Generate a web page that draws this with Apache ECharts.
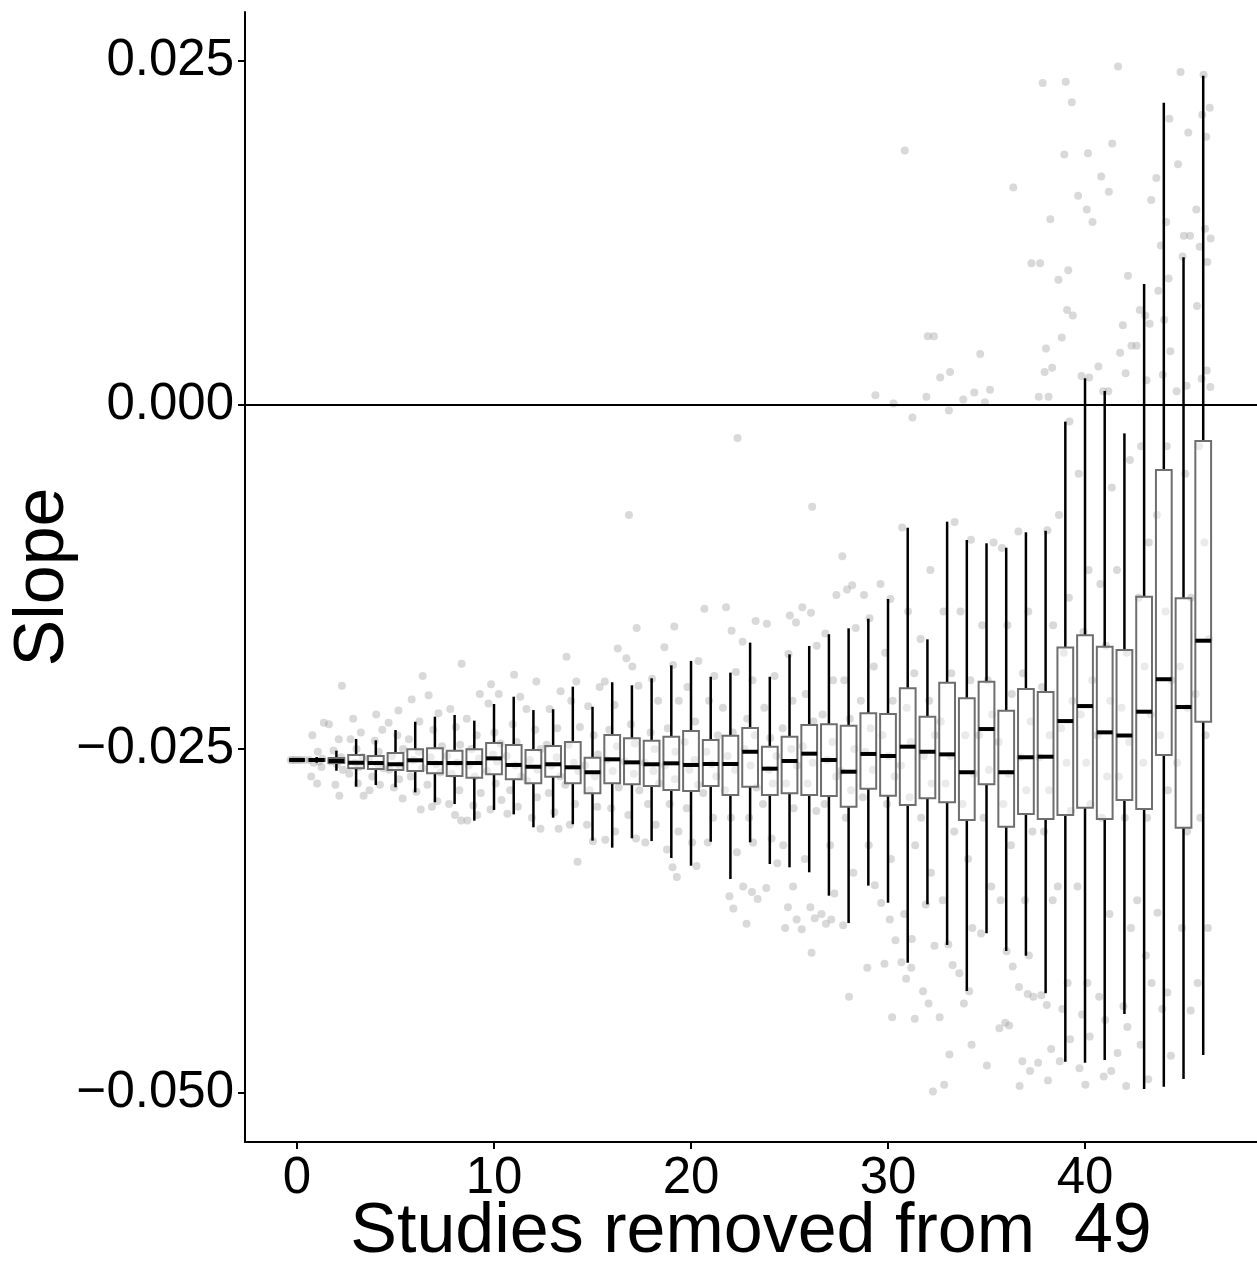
<!DOCTYPE html>
<html>
<head>
<meta charset="utf-8">
<script src="https://cdn.jsdelivr.net/npm/echarts@6/dist/echarts.min.js"></script>
<style>
  html, body { margin: 0; padding: 0; background: #fff; }
  #chart { width: 1257px; height: 1261px; }
</style>
</head>
<body>
<div id="chart"></div>
<script>
// number of studies removed (x categories)
const studiesRemoved = [0,1,2,3,4,5,6,7,8,9,10,11,12,13,14,15,16,17,18,19,20,21,22,23,24,25,26,27,28,29,30,31,32,33,34,35,36,37,38,39,40,41,42,43,44,45,46];

// box statistics
const whiskerLow = [-0.0258,-0.0260,-0.02658,-0.02774,-0.02762,-0.02778,-0.02815,-0.02887,-0.0290,-0.03021,
  -0.02943,-0.02975,-0.03069,-0.02999,-0.03047,-0.03166,-0.03217,-0.03149,-0.03169,-0.03292,
  -0.03348,-0.03174,-0.03445,-0.03178,-0.03336,-0.0336,-0.03396,-0.03566,-0.03765,-0.03493,
  -0.03617,-0.04053,-0.03629,-0.03924,-0.04259,-0.03839,-0.03968,-0.04002,-0.04275,-0.04773,
  -0.0478,-0.0476,-0.04426,-0.04971,-0.04954,-0.04898,-0.04724];
const lowerQuartile = [-0.0258,-0.02587,-0.02602,-0.0264,-0.02645,-0.02653,-0.0266,-0.02677,-0.02696,-0.02709,
  -0.02684,-0.0272,-0.02749,-0.02701,-0.02749,-0.02822,-0.02749,-0.02757,-0.02769,-0.02798,
  -0.02805,-0.02769,-0.02834,-0.02774,-0.02834,-0.02822,-0.02834,-0.02842,-0.02919,-0.02788,
  -0.02839,-0.02907,-0.02858,-0.02887,-0.03016,-0.02757,-0.03065,-0.02972,-0.03009,-0.0298,
  -0.02927,-0.03009,-0.02871,-0.02936,-0.02544,-0.03072,-0.02302];
const medianSlope = [-0.0258,-0.0258,-0.02587,-0.0260,-0.02602,-0.02611,-0.02582,-0.02602,-0.02602,-0.02602,
  -0.02568,-0.02616,-0.02629,-0.02611,-0.02633,-0.02669,-0.02575,-0.02597,-0.02611,-0.02604,
  -0.02616,-0.02609,-0.02609,-0.0252,-0.02643,-0.02587,-0.02534,-0.0258,-0.02665,-0.02536,
  -0.02551,-0.02483,-0.0252,-0.02539,-0.02669,-0.02355,-0.02669,-0.0256,-0.02556,-0.02297,
  -0.02188,-0.02379,-0.02402,-0.02229,-0.01993,-0.02195,-0.01713];
const upperQuartile = [-0.0258,-0.02573,-0.02565,-0.02544,-0.02551,-0.02529,-0.02502,-0.02495,-0.02512,-0.02502,
  -0.02456,-0.02471,-0.02507,-0.02478,-0.02449,-0.02563,-0.02398,-0.02422,-0.0244,-0.02411,
  -0.02369,-0.02435,-0.02403,-0.02347,-0.02483,-0.02411,-0.02326,-0.0232,-0.02331,-0.02241,
  -0.02246,-0.02059,-0.02265,-0.02018,-0.02132,-0.02011,-0.02222,-0.02064,-0.02086,-0.01762,
  -0.01674,-0.01757,-0.01781,-0.01393,-0.00472,-0.01405,-0.00262];
const whiskerHigh = [-0.0258,-0.02558,-0.02512,-0.02427,-0.02437,-0.02362,-0.02302,-0.02265,-0.02253,-0.02294,
  -0.02173,-0.0212,-0.02217,-0.02211,-0.02047,-0.02193,-0.02015,-0.02037,-0.01986,-0.01892,
  -0.0186,-0.01975,-0.01945,-0.01727,-0.01975,-0.01812,-0.01751,-0.01666,-0.01623,-0.01553,
  -0.0141,-0.00892,-0.01703,-0.00848,-0.00981,-0.01005,-0.01037,-0.00925,-0.00914,-0.00121,
  0.00194,0.00102,-0.00206,0.00879,0.02197,0.01073,0.02393];

// individual slopes (grey points), one list per number removed
const slopeSamples = [
  [-0.0258,-0.0258,-0.0258,-0.0258,-0.0258,-0.0258],
  [-0.0231,-0.0240,-0.0252,-0.0257,-0.0258,-0.0259,-0.0260,-0.0263,-0.0270,-0.0275],
  [-0.0204,-0.0232,-0.0243,-0.0251,-0.0256,-0.0259,-0.0261,-0.0265,-0.0276,-0.0284],
  [-0.0228,-0.0238,-0.0243,-0.0250,-0.0256,-0.0260,-0.0263,-0.0268,-0.0275,-0.0284],
  [-0.0225,-0.0236,-0.0244,-0.0252,-0.0257,-0.0261,-0.0264,-0.0270,-0.0276,-0.0280],
  [-0.0222,-0.0231,-0.0240,-0.0250,-0.0255,-0.0262,-0.0265,-0.0272,-0.0278,-0.0286],
  [-0.0197,-0.0214,-0.0230,-0.0243,-0.0252,-0.0258,-0.0264,-0.0270,-0.0281,-0.0294],
  [-0.0211,-0.0224,-0.0236,-0.0248,-0.0256,-0.0261,-0.0267,-0.0276,-0.0288,-0.0292],
  [-0.0188,-0.0221,-0.0234,-0.0247,-0.0255,-0.0260,-0.0268,-0.0280,-0.0290,-0.0298,-0.0302],
  [-0.0210,-0.0228,-0.0240,-0.0250,-0.0257,-0.0262,-0.0270,-0.0282,-0.0291,-0.0298,-0.0302],
  [-0.0203,-0.0210,-0.0217,-0.0238,-0.0246,-0.0254,-0.0259,-0.0266,-0.0275,-0.0287,-0.0294],
  [-0.0196,-0.0212,-0.0232,-0.0245,-0.0255,-0.0262,-0.0270,-0.0280,-0.0292,-0.0297],
  [-0.0201,-0.0221,-0.0236,-0.0250,-0.0258,-0.0265,-0.0273,-0.0285,-0.0300,-0.0308],
  [-0.0208,-0.0221,-0.0235,-0.0247,-0.0256,-0.0262,-0.0270,-0.0282,-0.0296,-0.0308],
  [-0.0183,-0.0201,-0.0215,-0.0234,-0.0247,-0.0260,-0.0266,-0.0276,-0.0290,-0.0305,-0.0332],
  [-0.0205,-0.0219,-0.0240,-0.0254,-0.0262,-0.0270,-0.0280,-0.0292,-0.0305,-0.0317],
  [-0.0177,-0.0201,-0.0218,-0.0236,-0.0248,-0.0258,-0.0266,-0.0278,-0.0293,-0.0310,-0.0316],
  [-0.0080,-0.0162,-0.0184,-0.0190,-0.0204,-0.0232,-0.0246,-0.0259,-0.0268,-0.0280,-0.0298,-0.0315],
  [-0.0199,-0.0215,-0.0238,-0.0250,-0.0260,-0.0266,-0.0275,-0.0290,-0.0305,-0.0318],
  [-0.0161,-0.0176,-0.0189,-0.0215,-0.0235,-0.0252,-0.0262,-0.0272,-0.0290,-0.0310,-0.0323,-0.0336,-0.0343],
  [-0.0186,-0.0205,-0.0230,-0.0245,-0.0258,-0.0265,-0.0276,-0.0293,-0.0318,-0.0335],
  [-0.0148,-0.0197,-0.0215,-0.0240,-0.0252,-0.0261,-0.0270,-0.0282,-0.0300,-0.0318],
  [-0.0024,-0.0147,-0.0164,-0.0194,-0.0220,-0.0238,-0.0255,-0.0265,-0.0280,-0.0300,-0.0325,-0.0357,-0.0366],
  [-0.0157,-0.0172,-0.0200,-0.0228,-0.0240,-0.0250,-0.0262,-0.0278,-0.0300,-0.0318,-0.0350,-0.0354,-0.0359,-0.0377],
  [-0.0159,-0.0197,-0.0220,-0.0242,-0.0255,-0.0265,-0.0275,-0.0290,-0.0315,-0.0333,-0.0351],
  [-0.0153,-0.0158,-0.0181,-0.0215,-0.0235,-0.0250,-0.0262,-0.0275,-0.0293,-0.0320,-0.0350,-0.0365,-0.0374,-0.0380],
  [-0.0074,-0.0147,-0.0151,-0.0175,-0.0210,-0.0230,-0.0248,-0.0260,-0.0275,-0.0295,-0.0330,-0.0365,-0.0373,-0.0381,-0.0398],
  [-0.0138,-0.0166,-0.0200,-0.0225,-0.0245,-0.0258,-0.0270,-0.0290,-0.0320,-0.0355,-0.0370,-0.0374,-0.0377],
  [-0.0110,-0.0131,-0.0134,-0.0162,-0.0200,-0.0228,-0.0250,-0.0266,-0.0280,-0.0300,-0.0340,-0.0378,-0.0430],
  [0.0007,-0.0138,-0.0155,-0.0190,-0.0215,-0.0235,-0.0252,-0.0265,-0.0285,-0.0320,-0.0349,-0.0409],
  [0.0001,-0.0130,-0.0141,-0.0180,-0.0215,-0.0240,-0.0255,-0.0270,-0.0290,-0.0330,-0.0362,-0.0374,-0.0389,-0.0406,-0.0445],
  [0.0185,-0.0009,-0.0089,-0.0150,-0.0195,-0.0220,-0.0245,-0.0262,-0.0285,-0.0320,-0.0370,-0.0388,-0.0405,-0.0409,-0.0417,-0.0446],
  [0.0050,0.0050,0.0006,-0.0120,-0.0170,-0.0215,-0.0240,-0.0255,-0.0275,-0.0300,-0.0340,-0.0363,-0.0393,-0.0426,-0.0435,-0.0499],
  [0.0024,0.0020,-0.0004,-0.0085,-0.0150,-0.0195,-0.0230,-0.0255,-0.0275,-0.0310,-0.0360,-0.0392,-0.0407,-0.0445,-0.0472,-0.0494],
  [0.0009,0.0004,-0.0098,-0.0150,-0.0200,-0.0240,-0.0268,-0.0290,-0.0330,-0.0380,-0.0413,-0.0426,-0.0435,-0.0465],
  [0.0037,0.0011,0.0002,-0.0100,-0.0160,-0.0200,-0.0225,-0.0240,-0.0265,-0.0300,-0.0350,-0.0384,-0.0480],
  [0.0158,-0.0104,-0.0160,-0.0210,-0.0245,-0.0268,-0.0290,-0.0320,-0.0360,-0.0397,-0.0408,-0.0449,-0.0451,-0.0453],
  [0.0103,-0.0092,-0.0150,-0.0195,-0.0230,-0.0256,-0.0280,-0.0310,-0.0360,-0.0400,-0.0423,-0.0428,-0.0430,-0.0477,-0.0484,-0.0495],
  [0.0234,0.0135,0.0103,0.0041,0.0027,0.0024,0.0006,0.0006,-0.0091,-0.0160,-0.0205,-0.0240,-0.0256,-0.0280,-0.0310,-0.0360,-0.0429,-0.0436,-0.0468,-0.0478,-0.0491],
  [0.0235,0.0220,0.0182,0.0098,0.0091,0.0069,0.0065,0.0049,-0.0012,-0.0080,-0.0140,-0.0180,-0.0215,-0.0235,-0.0260,-0.0295,-0.0350,-0.0420,-0.0439,-0.0461,-0.0477],
  [0.0183,0.0152,0.0142,0.0133,0.0021,0.0020,-0.0050,-0.0120,-0.0165,-0.0200,-0.0225,-0.0260,-0.0290,-0.0350,-0.0420,-0.0443,-0.0459,-0.0482,-0.0494],
  [0.0190,0.0166,0.0155,0.0028,0.0010,0.0010,-0.0060,-0.0130,-0.0175,-0.0215,-0.0240,-0.0270,-0.0300,-0.0370,-0.0430,-0.0447,-0.0484,-0.0488],
  [0.0246,0.0094,0.0058,0.0043,0.0038,0.0023,-0.0040,-0.0120,-0.0180,-0.0220,-0.0245,-0.0270,-0.0300,-0.0380,-0.0437,-0.0452,-0.0471,-0.0495],
  [0.0149,0.0069,0.0065,0.0059,0.0043,0.0018,-0.0030,-0.0100,-0.0140,-0.0190,-0.0225,-0.0260,-0.0300,-0.0360,-0.0400,-0.0420,-0.0465,-0.0490],
  [0.0208,0.0165,0.0133,0.0116,0.0092,0.0083,0.0062,0.0039,0.0022,-0.0030,-0.0080,-0.0150,-0.0200,-0.0240,-0.0280,-0.0369,-0.0427,-0.0439,-0.0473],
  [0.0242,0.0198,0.0175,0.0123,0.0123,0.0108,0.0014,0.0010,-0.0050,-0.0140,-0.0190,-0.0220,-0.0260,-0.0310,-0.0380,-0.0440],
  [0.0240,0.0216,0.0211,0.0195,0.0142,0.0128,0.0121,0.0115,0.0104,0.0072,0.0025,0.0019,0.0013,-0.0030,-0.0100,-0.0170,-0.0210,-0.0240,-0.0300,-0.0380,-0.0420]
];

const xTicks = [0, 10, 20, 30, 40];
const yTicks = [-0.05, -0.025, 0, 0.025];

// horizontal spread of the points inside a category
const jitter = [-0.32, 0.18, -0.08, 0.36, -0.22, 0.06, 0.28, -0.38, 0.12, -0.15, 0.24, -0.28, 0.02, 0.33, -0.05, 0.15, -0.35, 0.09, 0.38, -0.18, 0.21];

const points = [];
slopeSamples.forEach((list, k) => {
  list.forEach((v, i) => {
    points.push([studiesRemoved[k] + jitter[(i + k * 3) % jitter.length], v]);
  });
});

const boxData = studiesRemoved.map((x, i) =>
  [x, whiskerLow[i], lowerQuartile[i], medianSlope[i], upperQuartile[i], whiskerHigh[i]]);

const font = "'Liberation Sans', Arial, sans-serif";

function renderBox(params, api) {
  const x = api.value(0);
  const lo = api.coord([x, api.value(1)]);
  const q1 = api.coord([x, api.value(2)]);
  const md = api.coord([x, api.value(3)]);
  const q3 = api.coord([x, api.value(4)]);
  const hi = api.coord([x, api.value(5)]);
  const half = api.size([0.8, 0])[0] / 2;
  return {
    type: 'group',
    children: [
      { type: 'line', shape: { x1: hi[0], y1: hi[1], x2: q3[0], y2: q3[1] }, style: { stroke: '#000', lineWidth: 2.5 } },
      { type: 'line', shape: { x1: q1[0], y1: q1[1], x2: lo[0], y2: lo[1] }, style: { stroke: '#000', lineWidth: 2.5 } },
      { type: 'rect', shape: { x: q3[0] - half, y: q3[1], width: half * 2, height: q1[1] - q3[1] },
        style: { fill: 'rgba(255,255,255,0.45)', stroke: '#6e6e6e', lineWidth: 2 } },
      { type: 'line', shape: { x1: md[0] - half, y1: md[1], x2: md[0] + half, y2: md[1] }, style: { stroke: '#000', lineWidth: 4 } }
    ]
  };
}

const chart = echarts.init(document.getElementById('chart'));
chart.setOption({
  animation: false,
  backgroundColor: '#fff',
  grid: { left: 245, right: 0, top: 12, bottom: 119, outerBoundsMode: 'none', containLabel: false },
  xAxis: {
    type: 'value',
    min: -2.64,
    max: 48.73,
    name: 'Studies removed from  49',
    nameLocation: 'middle',
    nameGap: 56,
    nameMoveOverlap: false,
    nameTextStyle: { fontFamily: font, fontSize: 70, color: '#000', verticalAlign: 'top' },
    axisLine: { onZero: false, lineStyle: { color: '#000', width: 2 } },
    axisTick: { show: true, length: 7, customValues: xTicks, lineStyle: { color: '#000', width: 2 } },
    axisLabel: { customValues: xTicks, fontFamily: font, fontSize: 51, color: '#000', margin: 11 },
    splitLine: { show: false }
  },
  yAxis: {
    type: 'value',
    min: -0.053561,
    max: 0.028561,
    name: 'Slope',
    nameLocation: 'middle',
    nameRotate: 90,
    nameGap: 166,
    nameMoveOverlap: false,
    nameTextStyle: { fontFamily: font, fontSize: 70, color: '#000' },
    axisLine: { show: true, onZero: false, lineStyle: { color: '#000', width: 2 } },
    axisTick: { show: true, length: 7, customValues: yTicks, lineStyle: { color: '#000', width: 2 } },
    axisLabel: {
      customValues: yTicks, fontFamily: font, fontSize: 51, color: '#000', margin: 11,
      formatter: v => (v < 0 ? '\u2212' : '') + Math.abs(v).toFixed(3)
    },
    splitLine: { show: false }
  },
  series: [
    {
      type: 'scatter',
      data: points,
      symbolSize: 8,
      itemStyle: { color: 'rgba(150,150,150,0.45)' },
      silent: true,
      z: 1
    },
    {
      type: 'custom',
      data: boxData,
      renderItem: renderBox,
      encode: { x: 0, y: [1, 2, 3, 4, 5] },
      silent: true,
      z: 3,
      markLine: {
        silent: true,
        symbol: 'none',
        label: { show: false },
        lineStyle: { color: '#000', width: 2, type: 'solid' },
        data: [{ yAxis: 0 }]
      }
    }
  ]
});
</script>
</body>
</html>
